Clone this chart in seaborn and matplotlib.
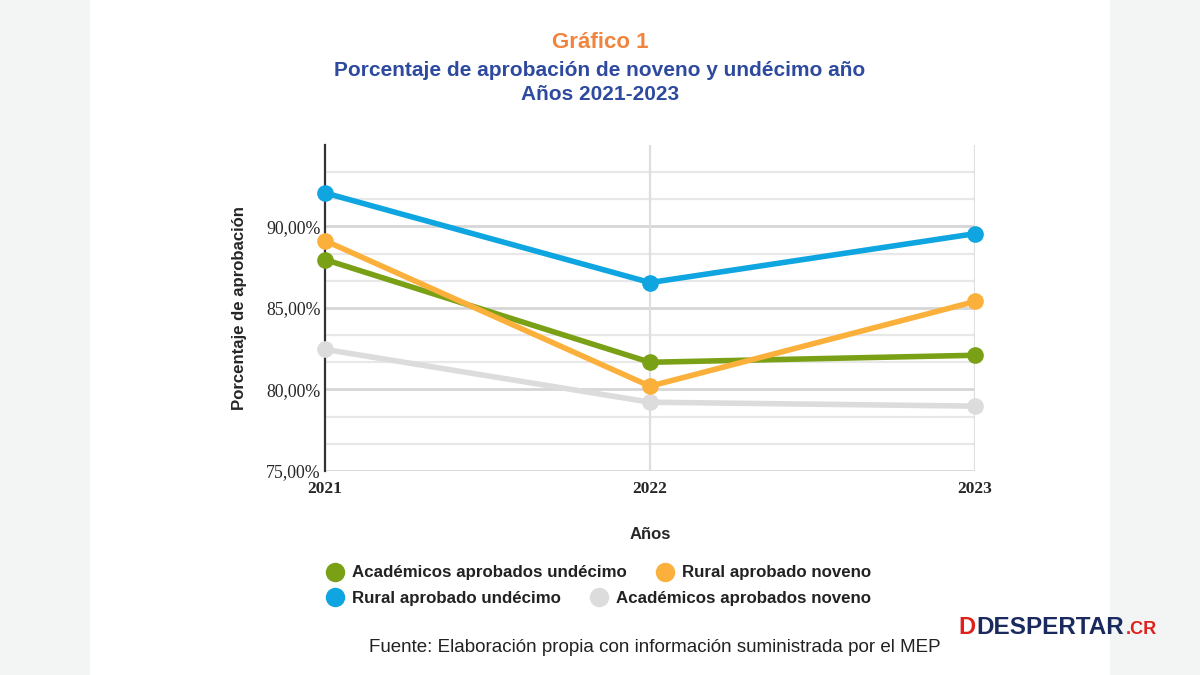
import numpy as np
import pandas as pd
import seaborn as sns
import matplotlib.pyplot as plt
from matplotlib.lines import Line2D
from matplotlib.patches import Rectangle

years = [2021, 2022, 2023]
rural_undecimo = [92.06, 86.56, 89.56]
rural_noveno = [89.13, 80.20, 85.40]
academicos_undecimo = [87.97, 81.67, 82.10]
academicos_noveno = [82.46, 79.22, 78.98]

series = {
    'Académicos aprobados noveno': academicos_noveno,
    'Académicos aprobados undécimo': academicos_undecimo,
    'Rural aprobado noveno': rural_noveno,
    'Rural aprobado undécimo': rural_undecimo,
}
colors = {
    'Académicos aprobados noveno': '#dcdcdc',
    'Académicos aprobados undécimo': '#7aa116',
    'Rural aprobado noveno': '#fbb03b',
    'Rural aprobado undécimo': '#0ea5e0',
}

df = pd.DataFrame({'Año': years, **series}).melt(
    id_vars='Año', var_name='Serie', value_name='Porcentaje')

sns.set_style('white')
plt.rcParams['font.family'] = ['Liberation Sans', 'DejaVu Sans']

fig = plt.figure(figsize=(12, 6.75), dpi=100)
fig.patch.set_facecolor('#f3f5f5')
fig.add_artist(Rectangle((90 / 1200, 0), 1020 / 1200, 1, transform=fig.transFigure,
                         facecolor='white', edgecolor='none', zorder=0))
ax = fig.add_axes([325 / 1200, 204 / 675, 650 / 1200, 326 / 675])
ax.set_facecolor('none')

sns.lineplot(data=df, x='Año', y='Porcentaje', hue='Serie',
             hue_order=list(series.keys()), palette=colors,
             marker='o', markersize=12, markeredgewidth=0,
             linewidth=4, legend=False, ax=ax, clip_on=False, zorder=3)

ax.set_xlim(2021, 2023)
ax.set_ylim(75, 95)
ax.set_xticks(years)
ax.set_xticklabels([str(y) for y in years], family='Liberation Serif',
                   fontweight='bold', fontsize=12.5)
major = [75, 80, 85, 90]
ax.set_yticks(major)
ax.set_yticklabels([f'{v},00%' for v in major], family='Liberation Serif', fontsize=12.8)
ax.tick_params(axis='both', length=0, pad=3)
ax.tick_params(axis='x', pad=7)

for v in np.arange(75, 95, 5 / 3):
    is_major = abs(round(v / 5) * 5 - v) < 1e-6
    ax.axhline(v, color='#d6d6d6' if is_major else '#e8e8e8',
               lw=2 if is_major else 1.6, zorder=1)
for x in [2022, 2023]:
    ax.axvline(x, color='#dedede', lw=1.6, zorder=1)

for s in ['top', 'right', 'bottom']:
    ax.spines[s].set_visible(False)
ax.spines['left'].set_color('#333333')
ax.spines['left'].set_linewidth(1.6)

ax.set_xlabel('Años', fontsize=12, fontweight='bold', labelpad=22)
ax.set_ylabel('Porcentaje de aprobación', fontsize=12.1, fontweight='bold', labelpad=14)

fig.text(0.5, 1 - 42 / 675, 'Gráfico 1', ha='center', va='center',
         color='#f0843c', fontsize=16, fontweight='bold')
fig.text(0.5, 1 - 70 / 675, 'Porcentaje de aprobación de noveno y undécimo año',
         ha='center', va='center', color='#2e4a9e', fontsize=15, fontweight='bold')
fig.text(0.5, 1 - 95 / 675, 'Años 2021-2023', ha='center', va='center',
         color='#2e4a9e', fontsize=15, fontweight='bold')


def handle(name):
    return Line2D([], [], marker='o', linestyle='none', markersize=14,
                  markeredgewidth=0, color=colors[name])


row1 = ['Académicos aprobados undécimo', 'Rural aprobado noveno']
row2 = ['Rural aprobado undécimo', 'Académicos aprobados noveno']
leg_kw = dict(ncol=2, frameon=False, fontsize=12.2, handletextpad=0.3,
              columnspacing=1.6, loc='center', handlelength=1.4)
leg1 = fig.legend([handle(n) for n in row1], row1,
                  bbox_to_anchor=(597 / 1200, 1 - 573 / 675), **leg_kw)
leg2 = fig.legend([handle(n) for n in row2], row2,
                  bbox_to_anchor=(597 / 1200, 1 - 598 / 675), **leg_kw)
for leg in (leg1, leg2):
    for t in leg.get_texts():
        t.set_fontweight('semibold')
        t.set_color('#222222')

fig.text(655 / 1200, 1 - 648 / 675,
         'Fuente: Elaboración propia con información suministrada por el MEP',
         ha='center', va='center', fontsize=13.5, color='#222222')

fig.text(958 / 1200, 1 - 628 / 675, 'D', ha='left', va='center',
         color='#e0201b', fontsize=17, fontweight='bold')
fig.text(976 / 1200, 1 - 628 / 675, 'DESPERTAR', ha='left', va='center',
         color='#1b2a5e', fontsize=17.5, fontweight='bold')
fig.text(1126 / 1200, 1 - 630 / 675, '.CR', ha='left', va='center',
         color='#e0201b', fontsize=13, fontweight='bold')

fig.savefig('out.png', dpi=100)
